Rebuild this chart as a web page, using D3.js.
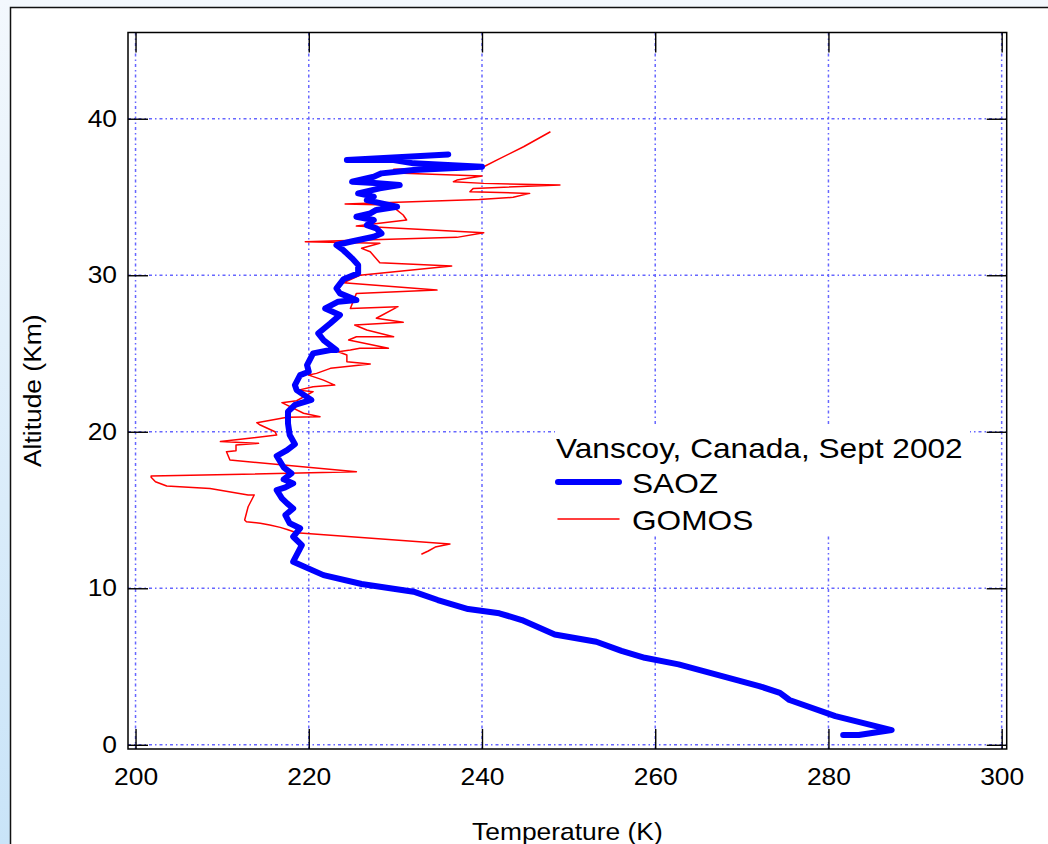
<!DOCTYPE html>
<html>
<head>
<meta charset="utf-8">
<script src="https://cdn.jsdelivr.net/npm/d3@7"></script>
<style>
  html, body { margin: 0; padding: 0; background: #fff; }
  svg { display: block; font-family: "Liberation Sans", Arial, sans-serif; }
</style>
</head>
<body>
<svg id="chart" width="1048" height="844"></svg>
<script>
// temperature (K), altitude (km), bottom to top
const saozProfile = [
  [281.7, 0.62], [283.5, 0.62], [287.3, 0.94], [280.8, 1.83], [275.5, 2.86], [274.4, 3.32],
  [272.0, 3.75], [265.8, 4.67], [262.7, 5.14], [258.8, 5.56], [256.1, 6.0], [253.2, 6.58],
  [248.4, 7.05], [244.6, 7.97], [242.0, 8.4], [238.4, 8.67], [234.9, 9.25], [232.1, 9.78],
  [226.1, 10.27], [221.7, 10.84], [218.2, 11.7], [219.2, 12.76], [218.2, 13.29], [219.0, 13.83],
  [217.8, 14.15], [217.3, 14.68], [218.2, 15.1], [217.5, 15.42], [216.9, 15.74], [216.3, 16.27],
  [217.3, 16.45], [218.2, 16.7], [217.1, 16.96], [218.0, 17.34], [217.1, 17.73], [216.3, 18.45],
  [217.5, 18.83], [218.4, 19.21], [217.8, 19.79], [217.6, 20.54], [217.6, 21.28], [218.4, 21.71],
  [220.3, 22.03], [218.6, 22.66], [218.4, 22.98], [219.0, 23.62], [220.0, 23.83], [219.8, 24.26],
  [220.5, 25.01], [222.5, 25.22], [223.2, 25.22], [221.7, 25.86], [221.1, 26.29], [222.5, 26.93],
  [223.6, 27.46], [221.9, 27.88], [223.4, 28.31], [225.5, 28.42], [223.6, 28.84], [223.2, 29.16],
  [224.0, 29.74], [225.7, 30.12], [225.7, 30.65], [225.0, 31.08], [224.0, 31.6], [223.2, 31.93],
  [224.8, 32.14], [227.5, 32.46], [228.4, 32.67], [227.8, 32.99], [226.7, 33.2], [227.5, 33.53],
  [225.5, 33.74], [227.1, 33.95], [227.8, 34.17], [230.2, 34.38], [228.4, 34.59], [226.7, 34.8],
  [227.5, 35.02], [225.7, 35.23], [228.2, 35.55], [230.5, 35.76], [227.6, 35.9], [225.0, 35.98],
  [227.5, 36.29], [228.4, 36.51], [232.1, 36.73], [240.0, 36.94], [232.1, 37.15], [229.8, 37.36],
  [224.4, 37.36], [236.1, 37.72]
];

const gomosProfile = [
  [233.0, 12.17], [233.8, 12.38], [234.6, 12.63], [236.3, 12.83], [218.6, 13.55], [217.5, 13.76],
  [216.7, 13.89], [215.5, 14.04], [214.4, 14.15], [212.8, 14.25], [212.6, 14.36], [213.0, 15.21],
  [213.7, 15.96], [213.0, 15.96], [208.6, 16.38], [203.6, 16.53], [202.3, 16.81], [201.8, 17.09],
  [201.8, 17.17], [225.5, 17.44], [210.9, 18.19], [210.5, 18.72], [211.6, 18.79], [211.6, 19.15],
  [214.2, 19.26], [209.8, 19.37], [216.3, 19.79], [216.1, 20.0], [214.4, 20.43], [214.0, 20.58],
  [217.5, 20.92], [221.3, 20.96], [219.4, 21.18], [216.9, 21.86], [218.6, 21.98], [220.5, 22.56],
  [218.8, 22.66], [220.5, 22.88], [223.0, 22.98], [221.7, 23.3], [220.0, 23.62], [220.9, 23.73],
  [222.5, 24.05], [227.1, 24.33], [224.4, 24.47], [224.4, 24.9], [223.4, 25.11], [224.8, 25.22],
  [225.9, 25.33], [229.2, 25.33], [224.6, 25.86], [225.5, 26.07], [229.8, 26.07], [226.7, 26.5],
  [225.3, 26.82], [230.9, 26.99], [227.8, 27.25], [230.3, 27.99], [224.8, 27.88], [225.5, 28.84],
  [234.8, 29.05], [224.0, 29.52], [225.9, 30.0], [236.5, 30.59], [228.2, 30.8], [227.1, 31.5],
  [226.1, 31.72], [228.2, 32.04], [219.6, 32.14], [237.1, 32.42], [240.2, 32.72], [225.5, 33.14],
  [231.3, 33.53], [230.9, 33.85], [229.8, 34.34], [229.2, 34.49], [224.2, 34.55], [239.7, 34.84],
  [243.6, 34.98], [245.5, 35.23], [238.6, 35.34], [239.0, 35.55], [249.0, 35.76], [240.2, 35.87],
  [236.7, 35.98], [237.1, 36.08], [240.0, 36.34], [230.9, 36.51], [229.8, 36.77], [240.2, 36.93],
  [241.7, 37.36], [244.8, 38.21], [247.9, 39.17]
];

const xTicks = [200, 220, 240, 260, 280, 300];
const yTicks = [0, 10, 20, 30, 40];
const xDomain = [199.13, 300.58];
const yDomain = [-0.27, 45.51];
const legendTitle = "Vanscoy, Canada, Sept 2002";
const seriesNames = ["SAOZ", "GOMOS"];

const svg = d3.select("#chart");
const W = 1048, H = 844;
const box = { left: 128, top: 32.5, right: 1006.7, bottom: 749 };
const tickLen = 20;
const stretch = 1.1;

// backdrop
const defs = svg.append("defs");
const grad = defs.append("linearGradient").attr("id", "bg").attr("x1", 0).attr("y1", 0).attr("x2", 0).attr("y2", 1);
grad.append("stop").attr("offset", "0%").attr("stop-color", "#f3f8fd");
grad.append("stop").attr("offset", "100%").attr("stop-color", "#c9e4f8");
svg.append("rect").attr("width", W).attr("height", H).attr("fill", "url(#bg)");
svg.append("rect")
  .attr("x", 10.5).attr("y", 7.5).attr("width", W + 20).attr("height", H + 20)
  .attr("fill", "#fff").attr("stroke", "#111").attr("stroke-width", 1.5);

const x = d3.scaleLinear().domain(xDomain).range([box.left, box.right]);
const y = d3.scaleLinear().domain(yDomain).range([box.bottom, box.top]);

// grid
const grid = svg.append("g")
  .attr("stroke", "#6666ff").attr("stroke-width", 1.5).attr("stroke-dasharray", "3,3,1.5,3");
grid.selectAll(".gx").data(xTicks).join("line")
  .attr("x1", (d) => x(d)).attr("x2", (d) => x(d))
  .attr("y1", box.top).attr("y2", box.bottom);
grid.selectAll(".gy").data(yTicks).join("line")
  .attr("y1", (d) => y(d)).attr("y2", (d) => y(d))
  .attr("x1", box.left).attr("x2", box.right);

// legend background hides the grid
svg.append("rect")
  .attr("x", 555).attr("y", 427).attr("width", 415).attr("height", 108)
  .attr("fill", "#fff");

const line = d3.line().x((d) => x(d[0])).y((d) => y(d[1]));

svg.append("path")
  .datum(gomosProfile)
  .attr("d", line)
  .attr("fill", "none")
  .attr("stroke", "#ff0000")
  .attr("stroke-width", 1.5)
  .attr("stroke-linejoin", "round");

svg.append("path")
  .datum(saozProfile)
  .attr("d", line)
  .attr("fill", "none")
  .attr("stroke", "#0000ff")
  .attr("stroke-width", 6)
  .attr("stroke-linejoin", "round")
  .attr("stroke-linecap", "round");

// axes: inward ticks on all four sides
function styleAxis(g) {
  g.select(".domain").remove();
  g.selectAll(".tick line").attr("stroke", "#000").attr("stroke-width", 1.4);
  g.selectAll("text")
    .attr("fill", "#000")
    .attr("font-size", 24)
    .attr("transform", `scale(${stretch},1)`);
}

svg.append("g")
  .attr("transform", `translate(0,${box.bottom})`)
  .call(d3.axisBottom(x).tickValues(xTicks).tickSize(-tickLen).tickPadding(19))
  .call(styleAxis);

svg.append("g")
  .attr("transform", `translate(0,${box.top})`)
  .call(d3.axisTop(x).tickValues(xTicks).tickSize(-tickLen).tickFormat(""))
  .call(styleAxis);

svg.append("g")
  .attr("transform", `translate(${box.left},0)`)
  .call(d3.axisLeft(y).tickValues(yTicks).tickSize(-tickLen).tickPadding(10))
  .call(styleAxis);

svg.append("g")
  .attr("transform", `translate(${box.right},0)`)
  .call(d3.axisRight(y).tickValues(yTicks).tickSize(-tickLen).tickFormat(""))
  .call(styleAxis);

svg.append("rect")
  .attr("x", box.left).attr("y", box.top)
  .attr("width", box.right - box.left).attr("height", box.bottom - box.top)
  .attr("fill", "none").attr("stroke", "#000").attr("stroke-width", 1.5);

// axis titles
svg.append("text")
  .attr("transform", `translate(${(box.left + box.right) / 2},840) scale(${stretch},1)`)
  .attr("text-anchor", "middle")
  .attr("font-size", 24)
  .text("Temperature (K)");

svg.append("text")
  .attr("transform", `translate(41,${(box.top + box.bottom) / 2}) rotate(-90) scale(${stretch},1)`)
  .attr("text-anchor", "middle")
  .attr("font-size", 24)
  .text("Altitude (Km)");

// legend
const legend = svg.append("g");
legend.append("text")
  .attr("transform", `translate(556,458) scale(1.13,1)`)
  .attr("font-size", 28)
  .text(legendTitle);

const legendRows = [
  { name: seriesNames[0], color: "#0000ff", width: 6, y: 482 },
  { name: seriesNames[1], color: "#ff0000", width: 1.5, y: 519 }
];
legendRows.forEach((r) => {
  legend.append("line")
    .attr("x1", 558).attr("x2", 619).attr("y1", r.y).attr("y2", r.y)
    .attr("stroke", r.color).attr("stroke-width", r.width).attr("stroke-linecap", "round");
  legend.append("text")
    .attr("transform", `translate(632,${r.y + 11}) scale(1.13,1)`)
    .attr("font-size", 28)
    .text(r.name);
});
</script>
</body>
</html>
